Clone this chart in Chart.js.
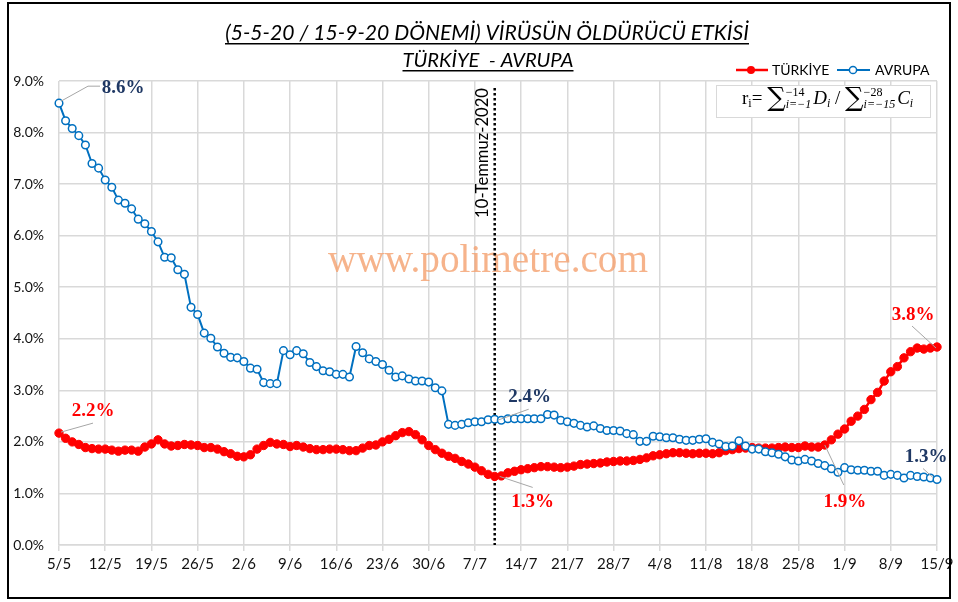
<!DOCTYPE html>
<html>
<head>
<meta charset="utf-8">
<script src="https://cdn.jsdelivr.net/npm/chart.js@4.4.0/dist/chart.umd.min.js"></script>
<style>
  html, body { margin: 0; padding: 0; background: #fff; }
  #wrap { width: 958px; height: 602px; position: relative; }
</style>
</head>
<body>
<div id="wrap"><canvas id="myChart"></canvas></div>
<script>
// daily categories 5/5 .. 15/9 (2020)
const categories = [];
for (let i = 0; i < 134; i++) {
  const d = new Date(2020, 4, 5 + i);
  categories.push(d.getDate() + "/" + (d.getMonth() + 1));
}
const tickLabels = ["5/5", "12/5", "19/5", "26/5", "2/6", "9/6", "16/6", "23/6", "30/6", "7/7",
  "14/7", "21/7", "28/7", "4/8", "11/8", "18/8", "25/8", "1/9", "8/9", "15/9"];
const yTicks = [0, 1, 2, 3, 4, 5, 6, 7, 8, 9];

// % values, one per day
const turkiye = [
  2.17, 2.07, 2.00, 1.95, 1.89, 1.87, 1.86,
  1.86, 1.84, 1.82, 1.84, 1.84, 1.82, 1.90,
  1.96, 2.04, 1.96, 1.92, 1.93, 1.95, 1.94,
  1.93, 1.89, 1.89, 1.86, 1.81, 1.77, 1.72,
  1.71, 1.75, 1.86, 1.93, 1.99, 1.96, 1.95,
  1.91, 1.93, 1.90, 1.87, 1.85, 1.85, 1.86,
  1.86, 1.85, 1.83, 1.83, 1.88, 1.93, 1.94,
  2.00, 2.05, 2.12, 2.18, 2.20, 2.14, 2.04,
  1.93, 1.85, 1.78, 1.72, 1.68, 1.62, 1.57,
  1.51, 1.44, 1.37, 1.33, 1.34, 1.40, 1.43,
  1.46, 1.48, 1.50, 1.52, 1.52, 1.51, 1.50,
  1.51, 1.53, 1.56, 1.57, 1.58, 1.59, 1.61,
  1.62, 1.63, 1.63, 1.64, 1.66, 1.69, 1.73,
  1.75, 1.77, 1.79, 1.79, 1.78, 1.77, 1.78,
  1.78, 1.77, 1.79, 1.83, 1.85, 1.87, 1.88,
  1.89, 1.88, 1.88, 1.88, 1.89, 1.90, 1.89,
  1.89, 1.92, 1.90, 1.90, 1.94, 2.04, 2.15,
  2.25, 2.40, 2.50, 2.63, 2.82, 2.96, 3.18,
  3.36, 3.46, 3.63, 3.75, 3.82, 3.80, 3.82,
  3.84
];
const avrupa = [
  8.57, 8.23, 8.08, 7.94, 7.76, 7.40, 7.31,
  7.08, 6.94, 6.69, 6.63, 6.52, 6.32, 6.23,
  6.08, 5.88, 5.58, 5.57, 5.34, 5.25, 4.61,
  4.47, 4.11, 4.01, 3.84, 3.72, 3.64, 3.63,
  3.56, 3.43, 3.41, 3.15, 3.13, 3.13, 3.77,
  3.69, 3.77, 3.71, 3.54, 3.46, 3.38, 3.36,
  3.31, 3.31, 3.26, 3.85, 3.73, 3.61, 3.56,
  3.50, 3.39, 3.26, 3.28, 3.22, 3.18, 3.18,
  3.16, 3.05, 2.99, 2.34, 2.32, 2.34, 2.37,
  2.39, 2.39, 2.43, 2.44, 2.42, 2.45, 2.45,
  2.45, 2.45, 2.45, 2.45, 2.53, 2.52, 2.42,
  2.39, 2.36, 2.32, 2.29, 2.31, 2.26, 2.22,
  2.22, 2.21, 2.16, 2.14, 2.01, 2.01, 2.11,
  2.10, 2.08, 2.08, 2.05, 2.03, 2.03, 2.05,
  2.06, 1.99, 1.96, 1.91, 1.92, 2.02, 1.92,
  1.86, 1.86, 1.81, 1.79, 1.76, 1.71, 1.65,
  1.63, 1.66, 1.63, 1.58, 1.54, 1.48, 1.41,
  1.50, 1.46, 1.45, 1.45, 1.43, 1.43, 1.35,
  1.37, 1.35, 1.30, 1.35, 1.33, 1.32, 1.30,
  1.27
];

const markerDay = "10/7";
const RED = "#FF0000";
const BLUE = "#0070C0";
const NAVY = "#1F3864";

// value callouts: dataset, day index, leader line and text offsets from the point
const callouts = [
  { ds: 1, i: 0, color: NAVY, line: [[2, -2], [29, -17], [41, -17]], tx: 64, ty: -15 },
  { ds: 0, i: 0, color: RED, line: [[2, -1], [34, -10]], tx: 34, ty: -22 },
  { ds: 1, i: 66, color: NAVY, line: [[3, 1], [34, -10]], tx: 35, ty: -22 },
  { ds: 0, i: 66, color: RED, line: [[5, 0], [38, 11]], tx: 38, ty: 26 },
  { ds: 0, i: 116, color: RED, line: [[0, 0], [19, 40]], tx: 20, ty: 57 },
  { ds: 0, i: 133, color: RED, line: [[-1, 1], [-25, -21]], tx: -24, ty: -32 },
  { ds: 1, i: 133, color: NAVY, line: [[-4, -2], [-14, -11]], tx: -11, ty: -22 }
];

function fitFont(ctx, text, style, family, width) {
  ctx.font = style + " 20px " + family;
  const size = 20 * width / ctx.measureText(text).width;
  return style + " " + size.toFixed(2) + "px " + family;
}

function underlined(ctx, text, cx, y, font, width) {
  ctx.font = font;
  ctx.textAlign = "center";
  ctx.textBaseline = "alphabetic";
  ctx.fillStyle = "#000";
  ctx.fillText(text, cx, y);
  ctx.fillRect(cx - width / 2, y + 3, width, 1.5);
}

const overlay = {
  id: "overlay",
  beforeDatasetsDraw(chart) {
    const ctx = chart.ctx;
    const area = chart.chartArea;
    ctx.save();
    // watermark
    ctx.font = fitFont(ctx, "www.polimetre.com", "", '"Liberation Serif"', 320);
    ctx.fillStyle = "rgba(244,160,110,0.8)";
    ctx.textAlign = "center";
    ctx.textBaseline = "middle";
    ctx.fillText("www.polimetre.com", 488, 262);

    // 10 Temmuz marker
    const mx = chart.scales.x.getPixelForValue(categories.indexOf(markerDay));
    ctx.strokeStyle = "#000";
    ctx.lineWidth = 2.5;
    ctx.setLineDash([2.5, 2.5]);
    ctx.beginPath();
    ctx.moveTo(mx, area.top + 7);
    ctx.lineTo(mx, area.bottom);
    ctx.stroke();
    ctx.setLineDash([]);

    ctx.translate(mx - 12, area.top + 7);
    ctx.rotate(-Math.PI / 2);
    ctx.font = fitFont(ctx, "10-Temmuz-2020", "", "Lato", 130);
    ctx.fillStyle = "#000";
    ctx.textAlign = "right";
    ctx.textBaseline = "middle";
    ctx.fillText("10-Temmuz-2020", 0, 0);
    ctx.restore();
  },
  afterDraw(chart) {
    const ctx = chart.ctx;
    ctx.save();

    // title
    const t1 = "(5-5-20 / 15-9-20 DÖNEMİ) VİRÜSÜN ÖLDÜRÜCÜ ETKİSİ";
    const t2 = "TÜRKİYE  - AVRUPA";
    underlined(ctx, t1, 487, 40, fitFont(ctx, t1, "italic", "Lato", 524), 524);
    underlined(ctx, t2, 488, 67, fitFont(ctx, t2, "italic", "Lato", 171), 171);

    // legend
    ctx.lineWidth = 2.5;
    ctx.strokeStyle = RED;
    ctx.beginPath(); ctx.moveTo(736, 70); ctx.lineTo(768, 70); ctx.stroke();
    ctx.fillStyle = RED;
    ctx.beginPath(); ctx.arc(751, 70, 4, 0, Math.PI * 2); ctx.fill();
    ctx.strokeStyle = BLUE;
    ctx.lineWidth = 2;
    ctx.beginPath(); ctx.moveTo(837, 70); ctx.lineTo(870, 70); ctx.stroke();
    ctx.fillStyle = "#fff";
    ctx.lineWidth = 1.5;
    ctx.beginPath(); ctx.arc(853, 70, 3.6, 0, Math.PI * 2); ctx.fill(); ctx.stroke();
    ctx.fillStyle = "#000";
    ctx.font = "14px Lato";
    ctx.textAlign = "left";
    ctx.textBaseline = "middle";
    ctx.fillText("TÜRKİYE", 772, 70.5);
    ctx.fillText("AVRUPA", 875, 70.5);

    // formula box
    ctx.fillStyle = "#fff";
    ctx.fillRect(716, 85, 214, 33);
    ctx.strokeStyle = "#d9d9d9";
    ctx.lineWidth = 1;
    ctx.strokeRect(716.5, 85.5, 214, 32);
    const serif = '"Liberation Serif"';
    const base = 104;
    let x = 742;
    ctx.fillStyle = "#000";
    ctx.textBaseline = "alphabetic";
    const put = (txt, font, dy) => {
      ctx.font = font;
      ctx.fillText(txt, x, base + dy);
      x += ctx.measureText(txt).width;
    };
    const stack = (sup, sub) => {
      ctx.font = "12px " + serif;
      ctx.fillText(sup, x, base - 8);
      const w1 = ctx.measureText(sup).width;
      ctx.font = "italic 12px " + serif;
      ctx.fillText(sub, x, base + 4);
      x += Math.max(w1, ctx.measureText(sub).width) + 2;
    };
    put("r", "19px " + serif, 0);
    put("i", "12px " + serif, 3);
    put("= ", "19px " + serif, 0);
    put("∑", '26px "DejaVu Serif"', 2);
    stack("−14", "i=−1");
    put("D", "italic 19px " + serif, 0);
    put("i", "italic 12px " + serif, 3);
    put(" / ", "19px " + serif, 0);
    put("∑", '26px "DejaVu Serif"', 2);
    stack("−28", "i=−15");
    put("C", "italic 19px " + serif, 0);
    put("i", "italic 12px " + serif, 3);

    // value callouts
    ctx.font = 'bold 19px "Liberation Serif"';
    ctx.textAlign = "center";
    ctx.textBaseline = "middle";
    callouts.forEach(c => {
      const pt = chart.getDatasetMeta(c.ds).data[c.i];
      const v = chart.data.datasets[c.ds].data[c.i];
      ctx.strokeStyle = "#a6a6a6";
      ctx.lineWidth = 1;
      ctx.beginPath();
      c.line.forEach((p, k) => {
        if (k === 0) ctx.moveTo(pt.x + p[0], pt.y + p[1]);
        else ctx.lineTo(pt.x + p[0], pt.y + p[1]);
      });
      ctx.stroke();
      ctx.fillStyle = c.color;
      ctx.fillText(v.toFixed(1) + "%", pt.x + c.tx, pt.y + c.ty);
    });

    // outer frame
    ctx.strokeStyle = "#000";
    ctx.lineWidth = 2;
    ctx.strokeRect(8, 3, 942, 595);
    ctx.restore();
  }
};

new Chart("myChart", {
  type: "line",
  data: {
    labels: categories,
    datasets: [
      {
        label: "TÜRKİYE",
        data: turkiye,
        borderColor: RED,
        backgroundColor: RED,
        borderWidth: 2.5,
        pointRadius: 4.2,
        pointBorderWidth: 1,
        pointBackgroundColor: RED,
        pointBorderColor: RED,
        tension: 0,
        order: 1
      },
      {
        label: "AVRUPA",
        data: avrupa,
        borderColor: BLUE,
        backgroundColor: "#fff",
        borderWidth: 2,
        pointRadius: 3.8,
        pointBorderWidth: 1.5,
        pointBackgroundColor: "#fff",
        pointBorderColor: BLUE,
        tension: 0,
        order: 0
      }
    ]
  },
  options: {
    responsive: true,
    maintainAspectRatio: false,
    devicePixelRatio: 1,
    animation: false,
    layout: { padding: { top: 81, right: 21, left: 0, bottom: 0 } },
    plugins: {
      legend: { display: false },
      title: { display: false },
      tooltip: { enabled: false }
    },
    scales: {
      x: {
        offset: false,
        grid: { color: "#d9d9d9", lineWidth: 1.5, tickLength: 6, drawTicks: true },
        border: { color: "#d9d9d9", width: 1.5 },
        ticks: {
          autoSkip: false,
          maxRotation: 0,
          padding: 4,
          color: "#111",
          font: { family: "Lato", size: 15 },
          callback: (v, i) => (i % 7 === 0 ? tickLabels[i / 7] : null)
        },
        afterFit: s => { s.height = 57; }
      },
      y: {
        min: 0,
        max: 9,
        afterBuildTicks: s => { s.ticks = yTicks.map(v => ({ value: v })); },
        grid: { color: "#d9d9d9", lineWidth: 1.5, drawTicks: false },
        border: { display: false },
        ticks: {
          padding: 15,
          color: "#111",
          font: { family: "Lato", size: 14 },
          callback: v => v.toFixed(1) + "%"
        },
        afterFit: s => { s.width = 59; }
      }
    }
  },
  plugins: [overlay]
});
</script>
</body>
</html>
